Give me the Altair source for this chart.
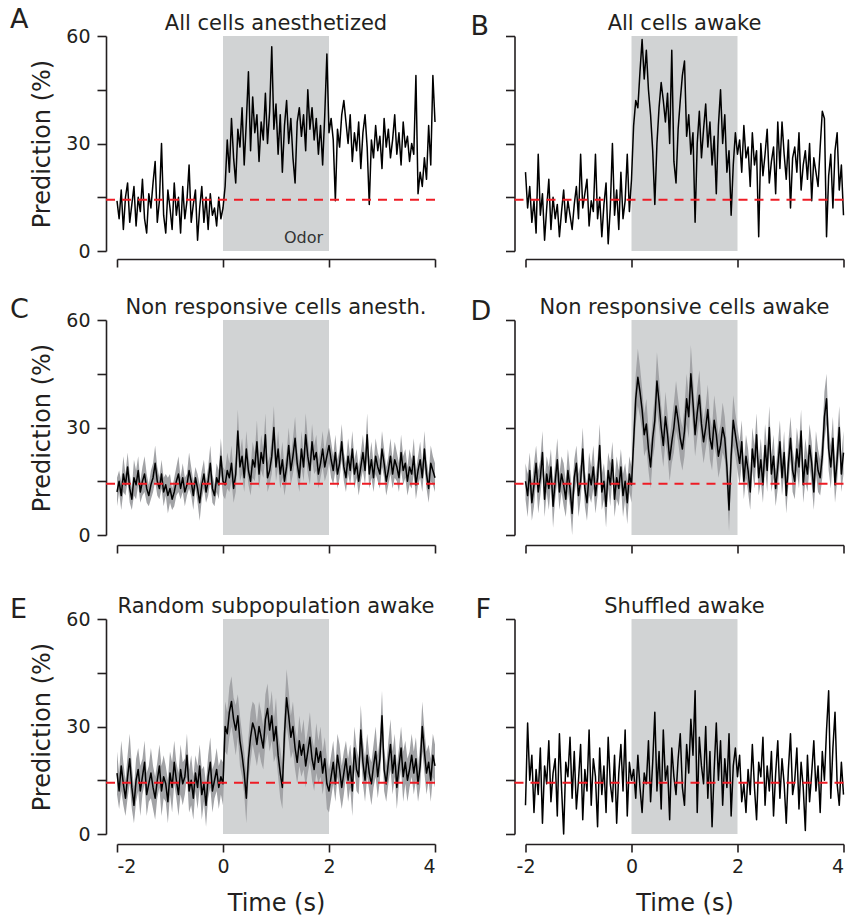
import altair as alt
import pandas as pd

FONT = "DejaVu Sans"
INK = "#231f20"

# ---------------- data ----------------
time_s = [round(-2 + 0.04 * i, 2) for i in range(151)]
chance_level = [14.3]
odor_window = [0, 2]

A_pred = [14,9,17,6,15,19,8,13,18,7,15,11,20,9,5,16,12,19,25,8,14,30,10,5,17,12,6,19,10,15,5,18,9,14,24,8,13,17,3,12,18,8,15,6,16,10,12,7,15,9,12,
          18,31,22,37,26,19,34,29,40,24,36,50,28,43,33,38,25,36,31,44,30,39,57,34,41,27,38,22,35,42,30,37,26,19,36,40,32,38,28,45,34,40,31,37,27,35,24,38,55,33,
          37,31,14,34,29,38,42,36,30,38,25,33,28,36,23,33,38,29,13,31,26,35,28,32,23,37,29,34,26,31,38,27,33,24,36,29,32,25,30,27,49,16,22,18,26,20,35,24,49,36]

B_pred = [22,12,18,8,14,5,27,10,16,3,12,20,6,15,9,13,4,11,17,8,14,10,6,13,18,9,27,12,16,20,7,14,11,27,9,15,4,13,19,2,12,30,10,17,6,22,9,14,27,11,20,
          35,42,40,50,59,48,56,45,38,28,13,30,40,47,42,36,44,30,56,25,19,34,42,49,53,32,38,27,33,8,30,39,26,34,41,29,36,24,32,16,35,45,30,38,22,28,10,24,33,27,
          31,22,35,26,29,18,33,24,28,4,30,21,27,34,19,25,29,16,36,23,36,27,20,31,12,26,29,22,33,17,24,28,20,30,14,26,22,18,29,39,37,4,21,27,12,28,33,17,24,10]

C_pred = [12,15,11,17,14,19,13,10,16,14,18,12,15,17,13,11,14,16,20,15,13,17,12,14,11,13,10,12,15,17,13,16,12,14,18,15,11,16,13,9,14,17,12,15,20,13,11,16,14,22,15,
          14,18,16,20,13,17,29,19,22,16,24,18,15,21,19,26,17,23,20,28,16,18,22,30,19,24,17,21,15,19,25,18,22,27,20,16,24,19,28,22,18,26,21,23,17,20,24,19,22,25,
          21,18,23,17,20,26,19,16,22,18,24,17,20,15,19,23,18,28,17,21,16,22,19,17,24,20,15,18,22,17,21,19,16,23,18,20,15,19,17,22,14,18,21,16,24,17,13,20,18,16]
C_sem = [4,3,4,5,3,4,4,3,5,4,4,3,4,5,4,3,4,4,5,4,3,4,4,3,5,4,3,4,4,5,3,4,4,3,5,4,4,3,4,5,4,4,3,4,5,4,3,4,4,5,4,
         4,5,4,5,4,5,6,4,5,4,5,4,4,5,4,6,4,5,4,6,4,4,5,6,4,5,4,5,4,4,5,4,5,6,4,4,5,4,6,5,4,5,4,5,4,4,5,4,5,5,
         5,4,5,4,4,5,4,4,5,4,5,4,4,4,4,5,4,6,4,5,4,5,4,4,5,4,4,4,5,4,5,4,4,5,4,4,4,5,4,5,4,4,5,4,5,4,4,5,4,4]

D_pred = [15,11,18,9,14,20,12,16,23,10,17,13,19,8,15,21,12,17,14,10,18,13,6,16,20,11,15,24,13,9,17,14,19,11,16,25,12,15,8,18,14,21,10,16,13,19,11,15,9,17,14,
          26,38,44,40,35,28,31,24,19,27,32,43,37,30,25,33,28,21,26,30,36,32,27,24,29,38,33,45,37,28,34,39,31,26,30,35,27,24,32,28,22,25,30,27,19,7,22,32,28,24,
          20,26,15,22,18,12,24,19,28,16,21,14,25,18,30,17,22,13,19,26,16,23,11,20,27,18,15,24,19,29,14,21,17,25,20,12,23,18,16,22,33,38,24,19,27,14,21,30,17,23]
D_sem = [5,6,5,5,6,5,6,5,6,5,5,6,5,6,5,6,5,5,6,5,6,5,6,5,5,6,5,6,5,5,6,5,6,5,5,6,5,5,6,5,6,5,5,6,5,5,6,5,6,5,5,
         6,7,8,7,6,6,7,6,6,6,7,8,7,6,6,7,6,6,6,7,7,6,6,6,7,7,6,8,7,6,7,7,6,6,6,7,6,6,7,6,6,6,7,6,6,6,6,7,6,6,
         6,6,5,6,6,5,6,6,6,5,6,5,6,6,6,5,6,5,6,6,5,6,5,6,6,6,5,6,6,6,5,6,5,6,6,5,6,6,5,6,7,7,6,6,6,5,6,6,5,6]

E_pred = [17,12,19,14,10,16,21,13,8,15,18,12,16,20,11,14,17,13,10,15,19,12,16,14,9,17,13,20,15,11,18,14,16,22,12,15,10,17,13,19,11,14,8,16,20,12,15,18,13,16,14,
          30,28,34,37,32,29,33,26,22,17,10,21,27,31,29,25,30,27,24,32,35,29,33,26,30,22,17,13,28,38,33,27,30,24,20,26,22,25,19,23,27,21,18,24,20,23,17,21,14,12,
          16,20,14,22,18,13,17,21,15,19,12,24,18,16,29,20,15,22,17,14,19,23,16,21,33,18,14,20,25,17,22,13,19,24,16,20,15,18,22,17,21,14,19,30,23,17,20,15,22,19]
E_sem = [6,5,7,6,5,6,7,6,5,6,6,7,5,6,6,5,7,6,6,5,6,7,6,5,6,6,7,6,5,6,7,6,5,6,6,7,6,5,6,6,7,5,6,6,7,6,5,6,6,5,6,
         7,6,7,7,6,7,6,7,6,6,7,6,7,6,7,6,7,7,6,7,7,6,7,6,8,6,7,6,7,8,7,6,7,6,6,7,6,7,6,6,7,6,6,7,6,7,6,6,7,6,
         6,6,5,6,7,6,6,5,6,6,7,6,6,5,7,6,6,6,5,6,6,7,6,6,7,6,5,6,7,6,6,6,5,6,7,6,6,5,6,6,6,5,6,7,6,6,5,6,6,6]

F_pred = [8,31,15,22,6,18,11,24,3,19,14,26,9,17,21,5,28,13,0,20,16,27,10,23,7,15,25,4,18,12,29,8,21,16,2,24,11,19,6,27,14,9,22,3,17,25,12,29,5,20,15,
          18,10,22,13,6,17,14,26,9,20,34,12,23,7,29,15,19,4,24,16,11,21,28,13,8,25,17,32,22,40,6,27,19,14,30,10,23,2,18,31,15,26,8,21,13,28,5,19,24,16,
          22,9,14,6,18,11,25,13,4,20,16,27,8,19,12,23,5,17,26,10,21,14,3,18,28,11,15,24,7,20,13,1,22,9,17,26,12,19,6,23,15,29,40,10,24,34,14,8,20,11]

# ---------------- layout constants ----------------
W, H = 318, 215
XS = alt.Scale(domain=[-2, 4], nice=False, zero=False)
YS = alt.Scale(domain=[0, 60], nice=False)


def x_axis(bottom, xoff, left):
    if bottom:
        kw = dict(values=[-2, 0, 2, 4], offset=xoff, tickSize=8, labelPadding=5,
                  labelExpr="replace(datum.label, '\u2212', '-')",
                  title="Time (s)", titlePadding=15)
        if not left:
            kw["labelAlign"] = {"condition": {"test": "datum.value == 4", "value": "right"},
                                "value": "center"}
        return alt.Axis(**kw)
    return alt.Axis(values=[-2, 0, 2, 4], offset=xoff, tickSize=8, labels=False, title=None)


def y_axis(left):
    if left:
        return alt.Axis(values=[0, 15, 30, 45, 60], offset=11, tickSize=9, labelPadding=7,
                        labelExpr="datum.value % 30 == 0 ? datum.label : ''",
                        title="Prediction (%)", titlePadding=11)
    return alt.Axis(values=[0, 15, 30, 45, 60], offset=11, tickSize=9, labels=False, title=None)


def panel(letter, ldx, ldy, title, mean, sem, left, bottom, xoff, odor_text=False):
    xa, ya = x_axis(bottom, xoff, left), y_axis(left)
    df = pd.DataFrame({"t": time_s, "p": mean})
    if sem is not None:
        df["lo"] = [m - s for m, s in zip(mean, sem)]
        df["hi"] = [m + s for m, s in zip(mean, sem)]
    win = pd.DataFrame({"on": [odor_window[0]], "off": [odor_window[1]], "y0": [0], "y1": [60]})
    one = pd.DataFrame({"L": [letter], "T": [title]})

    layers = []
    layers.append(alt.Chart(win).mark_rect(color="#d1d3d4").encode(
        x=alt.X("on:Q", scale=XS, axis=xa), x2="off:Q",
        y=alt.Y("y0:Q", scale=YS, axis=ya), y2="y1:Q"))
    if odor_text:
        layers.append(alt.Chart(pd.DataFrame({"x": [odor_window[1]], "y": [0], "lab": ["Odor"]}))
                      .mark_text(font=FONT, fontSize=16, color="#333333", align="right",
                                 baseline="alphabetic", dx=-6, dy=-8)
                      .encode(x=alt.X("x:Q", scale=XS, axis=xa), y=alt.Y("y:Q", scale=YS, axis=ya), text="lab:N"))
    if sem is not None:
        layers.append(alt.Chart(df).mark_area(color="#a2a3a6").encode(
            x=alt.X("t:Q", scale=XS, axis=xa), y=alt.Y("lo:Q", scale=YS, axis=ya), y2="hi:Q"))
    layers.append(alt.Chart(df).mark_line(color="black", strokeWidth=1.5, strokeJoin="round").encode(
        x=alt.X("t:Q", scale=XS, axis=xa), y=alt.Y("p:Q", scale=YS, axis=ya)))
    layers.append(alt.Chart(pd.DataFrame({"c": chance_level})).mark_rule(
        color="#ee1c25", strokeWidth=2, strokeDash=[9, 7]).encode(
        y=alt.Y("c:Q", scale=YS, axis=ya), x=alt.value(-11), x2=alt.value(W)))
    # panel letter and title
    layers.append(alt.Chart(one).mark_text(
        font=FONT, fontSize=27, color=INK, align="left", baseline="alphabetic").encode(
        text="L:N", x=alt.value(ldx), y=alt.value(ldy)))
    layers.append(alt.Chart(one).mark_text(
        font=FONT, fontSize=21, color=INK, align="center", baseline="alphabetic").encode(
        text="T:N", x=alt.value(W / 2), y=alt.value(-6)))
    # invisible frame so that every panel has the same outer bounds
    ax0, ax1 = (-107, W + 12) if left else (-56, W + 1)
    layers.append(alt.Chart(one).mark_rule(strokeOpacity=0, strokeWidth=1).encode(
        x=alt.value(ax0), x2=alt.value(ax1), y=alt.value(-36)))
    return alt.layer(*layers).properties(width=W, height=H)


pA = panel("A", -107, -8, "All cells anesthetized", A_pred, None, True, False, 8, odor_text=True)
pB = panel("B", -55, -1, "All cells awake", B_pred, None, False, False, 8)
pC = panel("C", -107, -2, "Non responsive cells anesth.", C_pred, C_sem, True, False, 10)
pD = panel("D", -55, 0, "Non responsive cells awake", D_pred, D_sem, False, False, 10)
pE = panel("E", -107, -1, "Random subpopulation awake", E_pred, E_sem, True, True, 10)
pF = panel("F", -50, -1, "Shuffled awake", F_pred, None, False, True, 10)

col1 = alt.vconcat(alt.vconcat(pA, pC, spacing=16), pE, spacing=29)
col2 = alt.vconcat(alt.vconcat(pB, pD, spacing=16), pF, spacing=29)

chart = alt.hconcat(col1, col2, spacing=22.5).properties(
    padding={"left": 10, "top": 0, "right": 0, "bottom": 0}
).configure_view(stroke=None).configure_axis(
    domainColor=INK, tickColor=INK, domainWidth=1.6, tickWidth=1.6,
    labelColor=INK, titleColor=INK, labelFont=FONT, titleFont=FONT,
    labelFontSize=19, titleFontSize=24, titleFontWeight="normal", grid=False
)

chart.save("out.html", embed_options={"renderer": "svg", "actions": False})
